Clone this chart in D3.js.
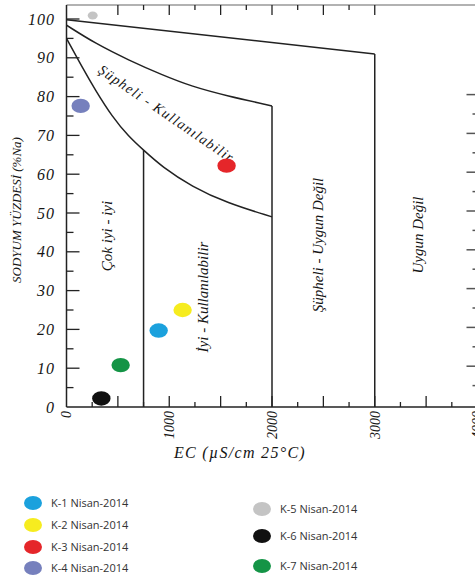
<!DOCTYPE html>
<html>
<head>
  <meta charset="UTF-8">
  <title>Wilcox - Sodyum Yüzdesi</title>
  <script src="https://d3js.org/d3.v7.min.js"></script>
  <style>
    body { margin: 0; background: #fff; }
    text.serif { font-family: "Liberation Serif", "Times New Roman", serif; font-style: italic; fill: #151515; }
    .legend text { font-family: "Open Sans", "Noto Sans", sans-serif; font-size: 11px; fill: #333; }
  </style>
</head>
<body>
<script>
  // sample data
  var sites = ["K-1", "K-2", "K-3", "K-4", "K-5", "K-6", "K-7"];
  var ecValues = [897, 1130, 1558, 138, 255, 339, 527];
  var naValues = [19.7, 25, 62.2, 77.6, 100.9, 2.2, 10.8];
  var siteColors = ["#1ba1dd", "#f6ec1f", "#e5262a", "#7680bd", "#c4c4c4", "#111111", "#149446"];
  var legendLabels = ["K-1 Nisan-2014", "K-2 Nisan-2014", "K-3 Nisan-2014", "K-4 Nisan-2014",
                      "K-5 Nisan-2014", "K-6 Nisan-2014", "K-7 Nisan-2014"];

  // class boundaries (EC, %Na)
  var topLine = [[0, 99.8], [3000, 91]];
  var midCurve = [[0, 98.4], [280, 93.7], [605, 89.4], [930, 85.6], [1220, 82.6], [1560, 80.2], [2000, 77.6]];
  var lowCurve = [[0, 95], [150, 87.7], [280, 81.7], [445, 74.8], [605, 69.7], [750, 66.2],
                  [930, 61.9], [1220, 56.8], [1560, 52.6], [2000, 49]];
  var verticals = [[750, 66.2], [2000, 77.6], [3000, 91]];

  var xTickLabels = [0, 1000, 2000, 3000, 4000];
  var yTickLabels = [0, 10, 20, 30, 40, 50, 60, 70, 80, 90, 100];

  var width = 475, height = 578;
  var svg = d3.select("body").append("svg")
    .attr("width", width).attr("height", height);

  var x = d3.scaleLinear().domain([0, 4000]).range([66.5, 477.5]);
  var y = d3.scaleLinear().domain([0, 100]).range([407, 19]);

  var ink = "#222";

  // frame
  svg.append("line").attr("x1", x(0)).attr("x2", width).attr("y1", 5).attr("y2", 5)
    .attr("stroke", "#999").attr("stroke-width", 1.5);
  svg.append("line").attr("x1", x(0)).attr("x2", x(0)).attr("y1", 5).attr("y2", y(0))
    .attr("stroke", ink).attr("stroke-width", 1.5);
  svg.append("line").attr("x1", x(0)).attr("x2", width).attr("y1", y(0)).attr("y2", y(0))
    .attr("stroke", ink).attr("stroke-width", 1.5);

  // bottom ticks (pointing up)
  var bottomTicks = d3.range(250, 4000, 250);
  svg.selectAll(".btick").data(bottomTicks).enter().append("line")
    .attr("x1", function (d) { return x(d); }).attr("x2", function (d) { return x(d); })
    .attr("y1", y(0)).attr("y2", function (d) { return y(0) - (d % 500 === 0 ? 11 : 5); })
    .attr("stroke", ink).attr("stroke-width", 1.3);

  // top ticks (pointing down)
  var topTicks = d3.range(500, 3001, 250);
  svg.selectAll(".ttick").data(topTicks).enter().append("line")
    .attr("x1", function (d) { return x(d); }).attr("x2", function (d) { return x(d); })
    .attr("y1", 5).attr("y2", function (d) { return 5 + (d % 500 === 0 ? 10 : 5); })
    .attr("stroke", ink).attr("stroke-width", 1.3);

  // left ticks (pointing right)
  var leftTicks = d3.range(5, 101, 5);
  svg.selectAll(".ltick").data(leftTicks).enter().append("line")
    .attr("x1", x(0)).attr("x2", function (d) { return x(0) + (d % 10 === 0 ? 13 : 7); })
    .attr("y1", function (d) { return y(d); }).attr("y2", function (d) { return y(d); })
    .attr("stroke", ink).attr("stroke-width", 1.3);

  // right ticks (pointing left, axis is off-page)
  var rightTicks = d3.range(5, 81, 5);
  svg.selectAll(".rtick").data(rightTicks).enter().append("line")
    .attr("x1", x(4000)).attr("x2", function (d) { return x(4000) - (d % 10 === 0 ? 11 : 5); })
    .attr("y1", function (d) { return y(d) - 2; }).attr("y2", function (d) { return y(d) - 2; })
    .attr("stroke", "#555").attr("stroke-width", 1.5);

  // tick labels
  svg.selectAll(".ylab").data(yTickLabels).enter().append("text")
    .attr("class", "serif")
    .attr("x", 55).attr("y", function (d) { return y(d); })
    .attr("dy", "0.35em")
    .attr("text-anchor", "end")
    .style("font-size", "16px").style("letter-spacing", "1px")
    .text(function (d) { return d; });

  svg.selectAll(".xlab").data(xTickLabels).enter().append("text")
    .attr("class", "serif")
    .attr("transform", function (d) { return "translate(" + x(d) + "," + 411 + ") rotate(-90)"; })
    .attr("dy", "0.35em")
    .attr("text-anchor", "end")
    .style("font-size", "14px")
    .text(function (d) { return d; });

  // axis titles
  svg.append("text").attr("class", "serif")
    .attr("x", 240).attr("y", 458)
    .attr("text-anchor", "middle")
    .style("font-size", "16px").style("letter-spacing", "1.3px")
    .text("EC (µS/cm 25°C)");

  svg.append("text").attr("class", "serif")
    .attr("transform", "translate(16,210) rotate(-90)")
    .attr("dy", "0.35em")
    .attr("text-anchor", "middle")
    .style("font-size", "13px")
    .text("SODYUM YÜZDESİ (%Na)");

  // boundary lines
  var line = d3.line()
    .x(function (d) { return x(d[0]); })
    .y(function (d) { return y(d[1]); });

  svg.append("path").datum(topLine).attr("d", line.curve(d3.curveLinear))
    .attr("fill", "none").attr("stroke", ink).attr("stroke-width", 1.5);
  svg.append("path").datum(midCurve).attr("d", line.curve(d3.curveBasis))
    .attr("fill", "none").attr("stroke", ink).attr("stroke-width", 1.5);
  svg.append("path").datum(lowCurve).attr("d", line.curve(d3.curveBasis))
    .attr("fill", "none").attr("stroke", ink).attr("stroke-width", 1.5);

  svg.selectAll(".vline").data(verticals).enter().append("line")
    .attr("x1", function (d) { return x(d[0]); }).attr("x2", function (d) { return x(d[0]); })
    .attr("y1", function (d) { return y(d[1]); }).attr("y2", y(0))
    .attr("stroke", ink).attr("stroke-width", 1.5);

  // class labels
  svg.append("text").attr("class", "serif")
    .attr("transform", "translate(100,68) rotate(34.4)")
    .attr("dy", "0.35em")
    .attr("textLength", 160).attr("lengthAdjust", "spacing")
    .style("font-size", "14px")
    .text("Şüpheli - Kullanılabilir");

  var vLabels = [
    { t: "Çok iyi - iyi", px: 107, py: 236 },
    { t: "İyi - Kullanılabilir", px: 203, py: 297 },
    { t: "Şüpheli - Uygun Değil", px: 318, py: 245 },
    { t: "Uygun Değil", px: 418, py: 235 }
  ];
  svg.selectAll(".vlab").data(vLabels).enter().append("text")
    .attr("class", "serif")
    .attr("transform", function (d) { return "translate(" + d.px + "," + d.py + ") rotate(-90)"; })
    .attr("dy", "0.35em")
    .attr("text-anchor", "middle")
    .style("font-size", "15px")
    .text(function (d) { return d.t; });

  // points
  svg.selectAll(".pt").data(sites).enter().append("ellipse")
    .attr("cx", function (d, i) { return x(ecValues[i]); })
    .attr("cy", function (d, i) { return y(naValues[i]); })
    .attr("rx", function (d) { return d === "K-5" ? 5 : 9.2; })
    .attr("ry", function (d) { return d === "K-5" ? 4 : 7.2; })
    .attr("fill", function (d, i) { return siteColors[i]; });

  // legend
  var legendPos = [[33, 503], [33, 525], [33, 547], [33, 568], [262, 509], [262, 536], [262, 566]];
  var legend = svg.append("g").attr("class", "legend");
  var item = legend.selectAll("g").data(sites).enter().append("g")
    .attr("transform", function (d, i) { return "translate(" + legendPos[i][0] + "," + legendPos[i][1] + ")"; });
  item.append("ellipse").attr("rx", 9).attr("ry", 7)
    .attr("fill", function (d, i) { return siteColors[i]; });
  item.append("text").attr("x", 18).attr("dy", "0.35em")
    .text(function (d, i) { return legendLabels[i]; });
</script>
</body>
</html>
